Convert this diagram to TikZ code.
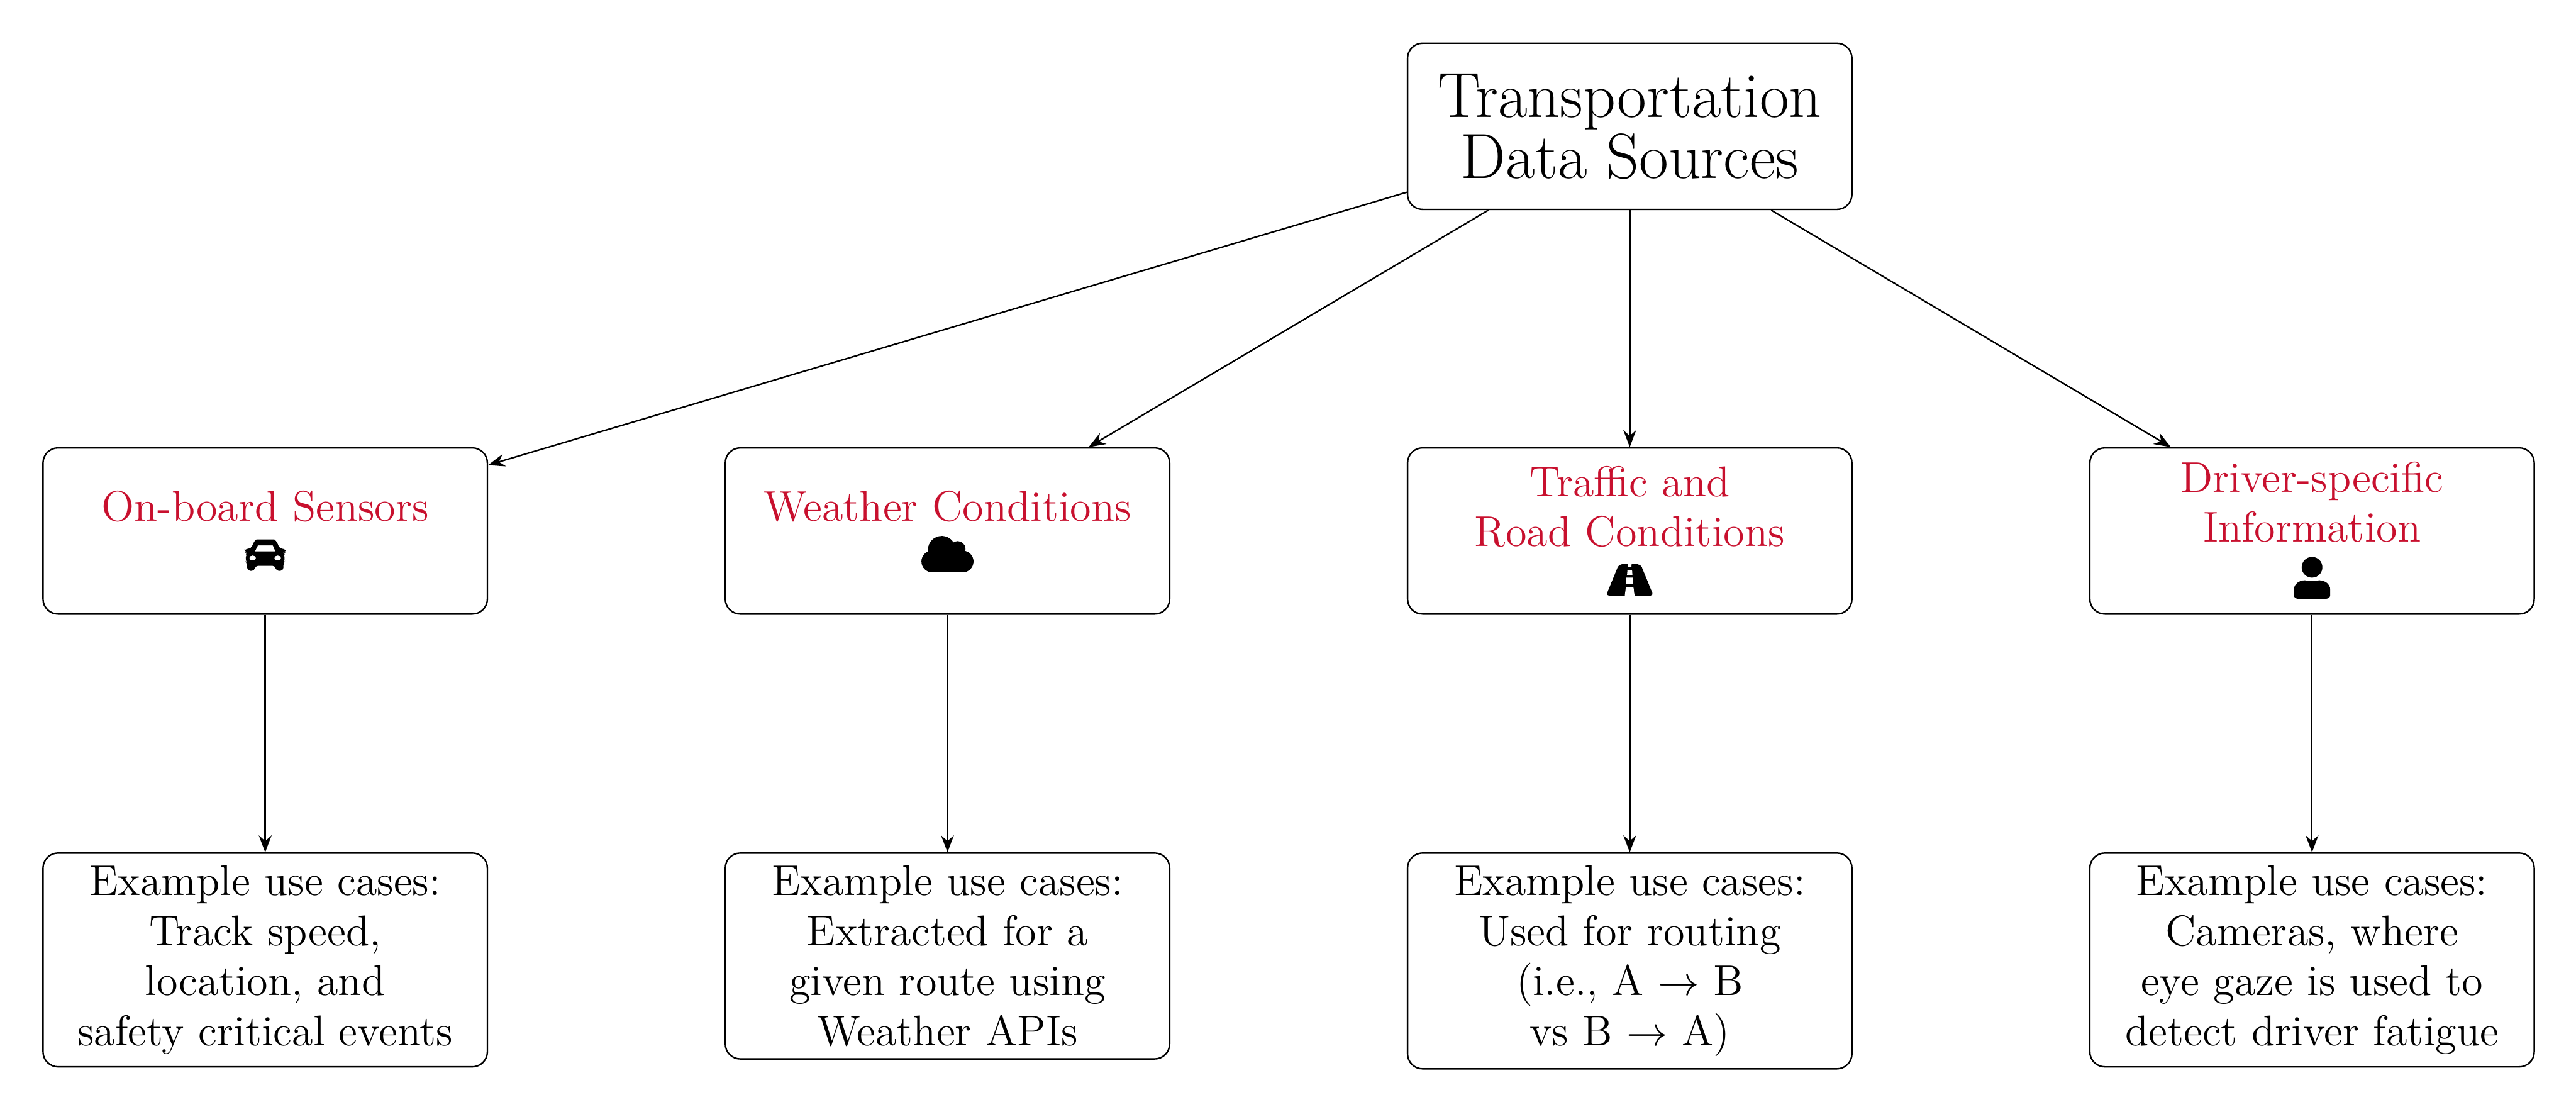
\documentclass[tikz,border=0pt]{standalone}
\usepackage{tikz}
\usetikzlibrary{arrows.meta,positioning,calc}
\definecolor{crimson}{RGB}{200,16,46}

\tikzset{
  box/.style={draw, rounded corners, align=center, minimum width=118.2pt, minimum height=44.2pt},
  titlebox/.style={box, font=\fontsize{17}{15.1}\selectfont},
  sourcebox/.style={box, text=crimson, font=\fontsize{11.45}{13.2}\selectfont},
  usebox/.style={box, minimum height=0pt, font=\fontsize{11.45}{13.3}\selectfont},
  icon/.style={x=0.0444pt, y=-0.0444pt},
  pics/caricon/.style={code={
    \fill[icon, even odd rule, shift={(-289,-260)}]
      (182,260) [rounded corners=0.8pt] -- (180,215) -- (173,205) -- (173,165) -- (185,152) -- (168,148) -- (165,128) -- (205,128)
      .. controls (218,90) and (232,72) .. (255,72) -- (325,72) .. controls (348,72) and (362,90) .. (375,128)
      -- (413,128) -- (410,148) -- (395,152) -- (405,165) -- (405,205) -- (398,215) -- (398,260) -- (352,260) -- (352,230)
      -- (227,230) -- (227,260) -- cycle
      (228,143) [sharp corners] -- (350,143) -- (335,108) -- (245,108) -- cycle
      (214,183) ellipse [x radius=20, y radius=15]
      (364,183) ellipse [x radius=20, y radius=15];
  }},
  pics/cloudicon/.style={code={
    \begin{scope}[icon, shift={(-564,-270)}]
      \fill (530,135) circle [radius=83];
      \fill (625,130) circle [radius=47];
      \fill (473,205) circle [radius=65];
      \fill (655,205) circle [radius=65];
      \fill (473,140) rectangle (655,270);
    \end{scope}
  }},
  pics/roadicon/.style={code={
    \fill[icon, shift={(-300,-260)}, rounded corners=0.8pt]
      (235,72) -- (365,72) -- (442,260) -- (158,260) -- cycle;
    \fill[icon, white, shift={(-300,-260)}]
      (289,70) -- (311,70) -- (310,90) -- (290,90) -- cycle
      (286,108) -- (314,108) -- (316,135) -- (284,135) -- cycle
      (280,152) -- (318,152) -- (321,190) -- (277,190) -- cycle
      (277,208) -- (322,208) -- (329,262) -- (270,262) -- cycle;
  }},
  pics/personicon/.style={code={
    \fill[icon, shift={(-334,-338)}] (334,150) circle [radius=62]
      (225,285) .. controls (225,250) and (258,228) .. (292,228) .. controls (310,234) and (358,234) .. (376,228)
      .. controls (410,228) and (443,250) .. (443,285) -- (443,315) .. controls (443,330) and (432,338) .. (420,338)
      -- (248,338) .. controls (236,338) and (225,330) .. (225,315) -- cycle;
  }}
}

\begin{document}
\begin{tikzpicture}[>={Stealth[length=4.5pt,width=3.4pt,inset=1.5pt]}]
  \useasboundingbox (0,0) rectangle (685.2pt,295.7pt);

  \node[titlebox] (top) at (433.5pt,262.1pt) {Transportation\\Data Sources};

  \node[sourcebox, below=2.215cm of top] (road) {Traffic and\\Road Conditions\\\rule{0pt}{11pt}};
  \node[sourcebox, left=2.21cm of road] (weather) {Weather Conditions\\\rule{0pt}{10pt}};
  \node[sourcebox, left=2.21cm of weather] (sensors) {On-board Sensors\\\rule{0pt}{9pt}};
  \node[sourcebox, right=2.21cm of road] (driver) {Driver-specific\\Information\\\rule{0pt}{14.5pt}};

  \node[usebox, below=2.22cm of sensors] (usesensors) {Example use cases:\\Track speed,\\location, and\\safety critical events};
  \node[usebox, below=2.22cm of weather] (useweather) {Example use cases:\\Extracted for a\\given route using\\Weather APIs};
  \node[usebox, below=2.22cm of road] (useroad) {Example use cases:\\Used for routing\\(i.e., A $\rightarrow$ B\\vs B $\rightarrow$ A)};
  \node[usebox, below=2.22cm of driver] (usedriver) {Example use cases:\\Cameras, where\\eye gaze is used to\\detect driver fatigue};

  \foreach \x in {sensors,weather,road,driver} \draw[->] (top) -- (\x);
  \foreach \x/\y in {sensors/usesensors,weather/useweather,road/useroad,driver/usedriver} \draw[->] (\x) -- (\y);

  \pic at ($(sensors.south)+(0,11.7pt)$) {caricon};
  \pic at ($(weather.south)+(0,11.3pt)$) {cloudicon};
  \pic at ($(road.south)+(0,5.1pt)$) {roadicon};
  \pic at ($(driver.south)+(0,4.3pt)$) {personicon};
\end{tikzpicture}
\end{document}
